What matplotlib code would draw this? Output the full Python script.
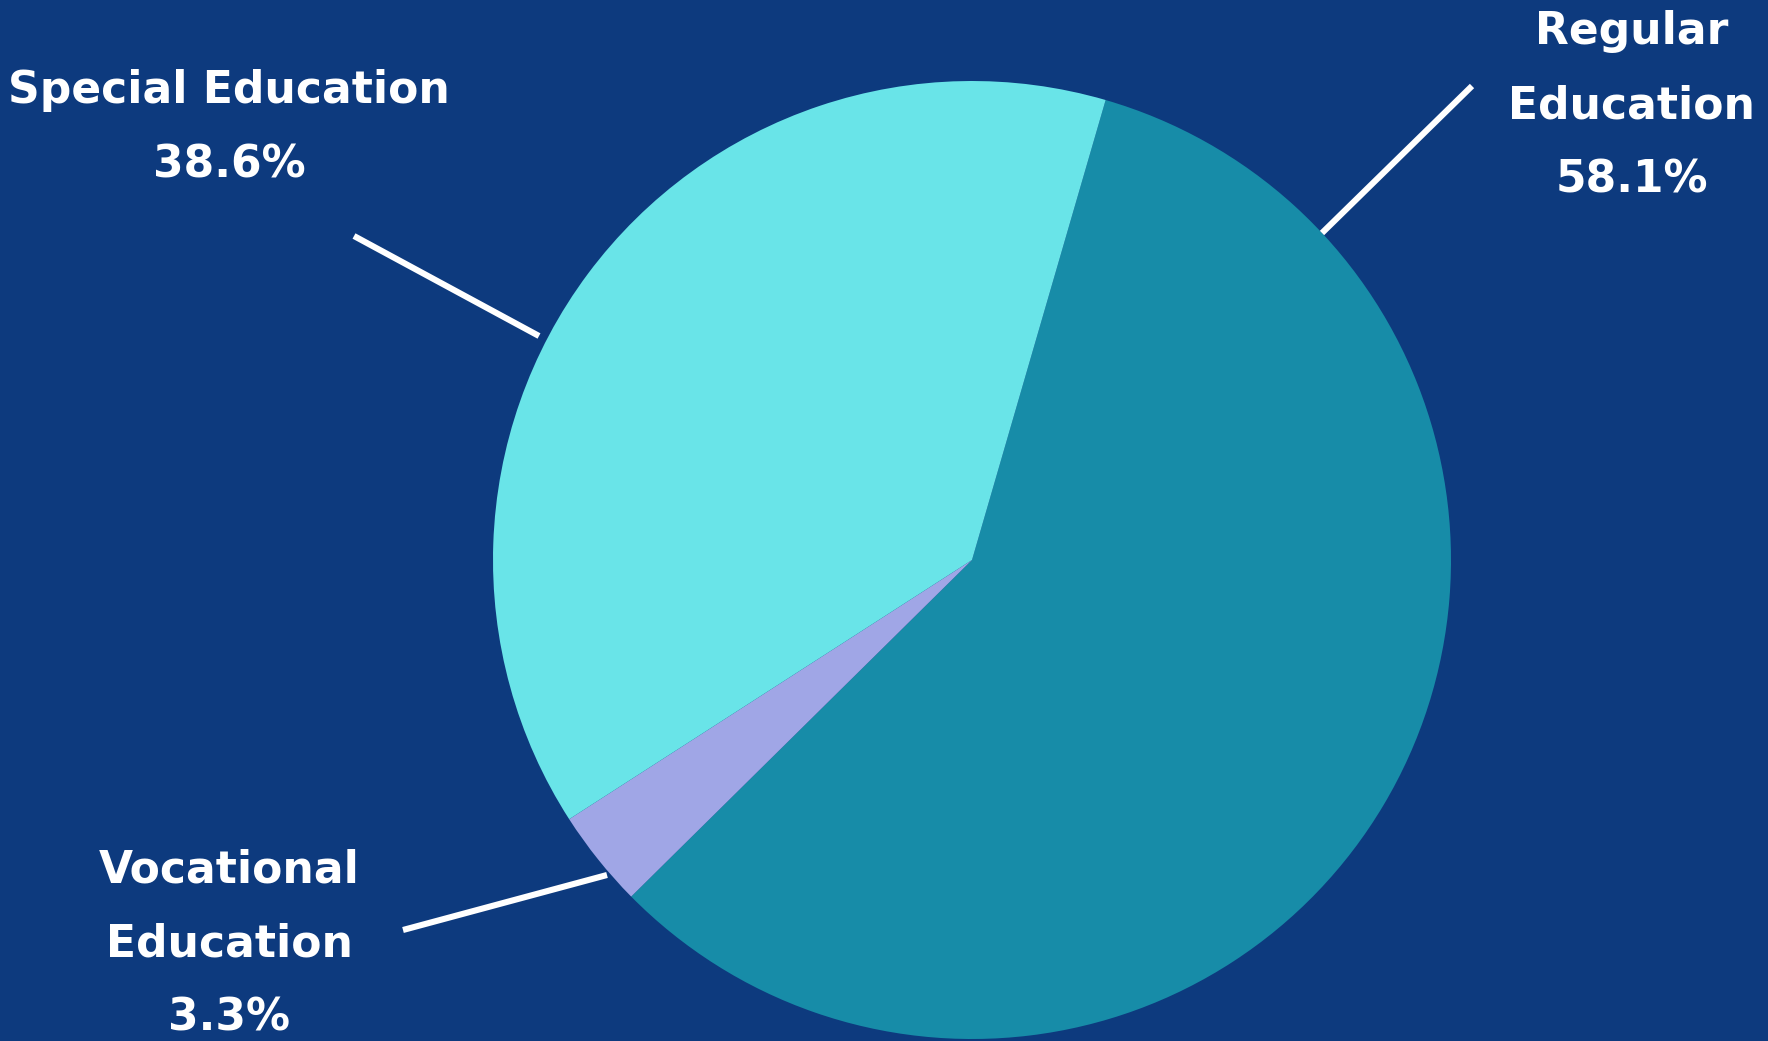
import matplotlib
matplotlib.use("Agg")
import matplotlib.pyplot as plt

# data
labels = ["Regular\nEducation", "Vocational\nEducation", "Special Education"]
shares = [58.1, 3.3, 38.6]
colors = ["#178CA8", "#A0A6E6", "#69E4E8"]

BG = "#0D3A7E"
W, H = 1768, 1041

fig = plt.figure(figsize=(W / 100, H / 100), dpi=100, facecolor=BG)
ax = fig.add_axes([0, 0, 1, 1])
ax.set_facecolor(BG)

cx, cy, r = 972, H - 560, 479
ax.pie(shares, colors=colors, startangle=73.8, counterclock=False,
       center=(cx, cy), radius=r, frame=True,
       wedgeprops=dict(linewidth=0))
ax.set_xlim(0, W)
ax.set_ylim(0, H)
ax.set_aspect("equal")
ax.axis("off")

# leader lines (pixel positions, top-left origin)
leaders = [((1322, 233), (1472, 86)),
           ((607, 875), (403, 930)),
           ((539, 336), (354, 236))]
for (x0, y0), (x1, y1) in leaders:
    ax.plot([x0, x1], [H - y0, H - y1], color="white", lw=4.4,
            solid_capstyle="butt")

# label text
label_pos = [(1632, 106), (229, 944), (229, 128)]
for lab, val, (tx, ty) in zip(labels, shares, label_pos):
    ax.text(tx, H - ty, f"{lab}\n{val}%", ha="center", va="center",
            color="white", fontsize=31.7, fontweight="bold",
            family="DejaVu Sans", linespacing=1.92)

fig.savefig("out.png", dpi=100, facecolor=BG)
